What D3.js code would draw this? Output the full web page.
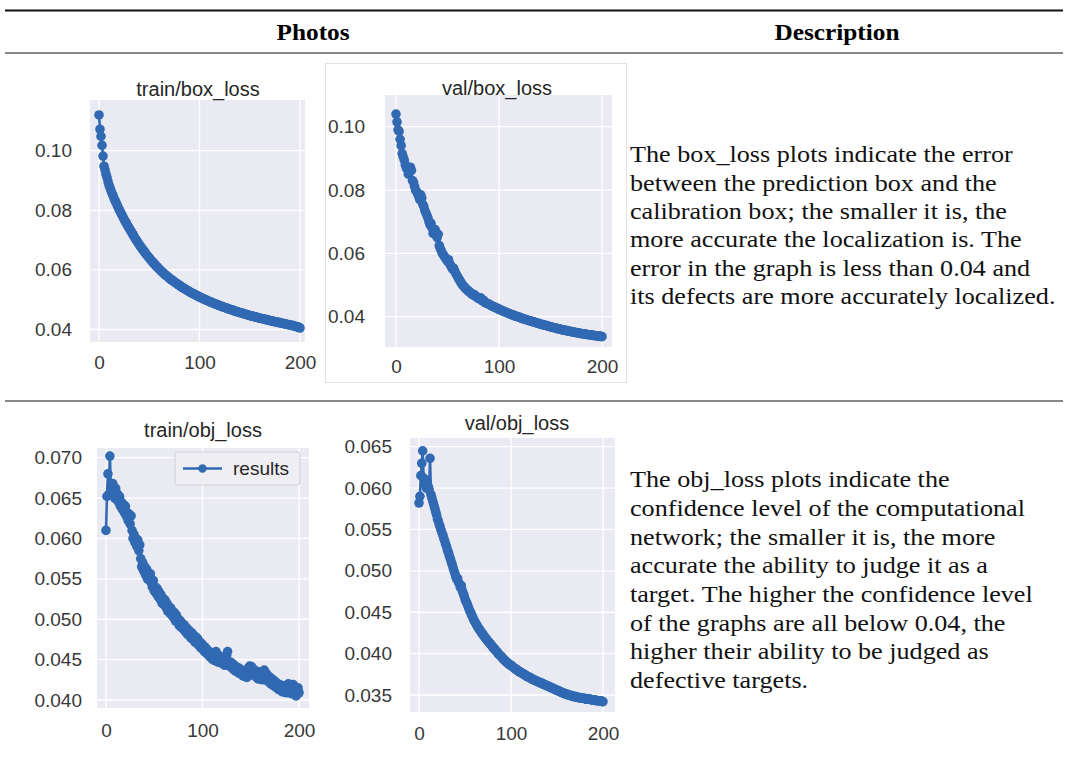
<!DOCTYPE html>
<html>
<head>
<meta charset="utf-8">
<script src="https://cdn.jsdelivr.net/npm/d3@7"></script>
<style>
  body { margin: 0; background: #fff; }
  svg { display: block; }
</style>
</head>
<body>
<div id="chart"></div>
<script>
// epochs 0..200, one value per epoch
const epochs = d3.range(0, 201);

const trainBoxLoss = [
  .1120, .1072, .1048, .1018, .0982, .0948, .0935, .0921, .0910, .0896,
  .0884, .0875, .0866, .0856, .0849, .0840, .0832, .0826, .0818, .0810,
  .0803, .0797, .0789, .0784, .0776, .0770, .0763, .0759, .0751, .0746,
  .0740, .0734, .0729, .0722, .0718, .0711, .0706, .0701, .0695, .0691,
  .0685, .0680, .0676, .0670, .0667, .0661, .0657, .0652, .0649, .0644,
  .0640, .0636, .0631, .0628, .0624, .0620, .0617, .0612, .0610, .0606,
  .0602, .0599, .0596, .0592, .0590, .0586, .0583, .0581, .0578, .0575,
  .0572, .0570, .0567, .0565, .0562, .0560, .0557, .0555, .0553, .0550,
  .0548, .0546, .0543, .0541, .0539, .0537, .0535, .0533, .0531, .0529,
  .0527, .0525, .0523, .0521, .0520, .0518, .0516, .0514, .0513, .0511,
  .0509, .0507, .0506, .0504, .0503, .0501, .0500, .0498, .0497, .0495,
  .0494, .0492, .0491, .0489, .0488, .0487, .0485, .0484, .0483, .0481,
  .0480, .0479, .0478, .0476, .0475, .0474, .0473, .0472, .0470, .0469,
  .0468, .0467, .0466, .0465, .0464, .0462, .0461, .0460, .0459, .0458,
  .0457, .0456, .0455, .0454, .0453, .0452, .0451, .0450, .0449, .0448,
  .0447, .0446, .0445, .0444, .0444, .0443, .0442, .0441, .0440, .0439,
  .0438, .0437, .0437, .0436, .0435, .0434, .0433, .0433, .0432, .0431,
  .0430, .0429, .0429, .0428, .0427, .0426, .0426, .0425, .0424, .0423,
  .0423, .0422, .0421, .0420, .0420, .0419, .0418, .0417, .0417, .0416,
  .0415, .0414, .0414, .0413, .0412, .0411, .0410, .0409, .0408, .0407,
  .0405
];

const valBoxLoss = [
  .1040, .1015, .0990, .0985, .0960, .0940, .0915, .0905, .0895, .0880,
  .0870, .0865, .0850, .0858, .0872, .0862, .0830, .0825, .0812, .0800,
  .0795, .0788, .0780, .0770, .0785, .0775, .0755, .0748, .0735, .0728,
  .0720, .0712, .0700, .0690, .0695, .0680, .0663, .0668, .0675, .0658,
  .0650, .0660, .0625, .0615, .0608, .0600, .0595, .0590, .0586, .0580,
  .0575, .0580, .0568, .0562, .0556, .0550, .0553, .0544, .0537, .0531,
  .0525, .0519, .0514, .0508, .0503, .0499, .0495, .0491, .0488, .0485,
  .0482, .0479, .0476, .0473, .0471, .0468, .0470, .0465, .0463, .0461,
  .0458, .0456, .0460, .0454, .0450, .0452, .0447, .0444, .0442, .0441,
  .0440, .0438, .0436, .0434, .0433, .0431, .0430, .0428, .0427, .0425,
  .0424, .0422, .0421, .0419, .0418, .0416, .0415, .0414, .0412, .0411,
  .0410, .0408, .0407, .0406, .0405, .0403, .0402, .0401, .0400, .0399,
  .0398, .0396, .0395, .0394, .0393, .0392, .0391, .0390, .0389, .0388,
  .0387, .0386, .0385, .0384, .0383, .0382, .0381, .0380, .0379, .0378,
  .0377, .0376, .0375, .0374, .0374, .0373, .0372, .0371, .0370, .0369,
  .0368, .0367, .0366, .0366, .0365, .0364, .0363, .0362, .0362, .0361,
  .0360, .0359, .0358, .0358, .0357, .0356, .0356, .0355, .0354, .0354,
  .0353, .0352, .0352, .0351, .0350, .0350, .0349, .0349, .0348, .0347,
  .0347, .0346, .0346, .0345, .0345, .0344, .0344, .0343, .0343, .0342,
  .0342, .0341, .0341, .0340, .0340, .0340, .0339, .0339, .0338, .0338,
  .0337
];

const trainObjLoss = [
  .0610, .0652, .0680, .0655, .0702, .0665, .0660, .0668, .0655, .0650,
  .0662, .0648, .0655, .0645, .0652, .0640, .0645, .0636, .0642, .0632,
  .0640, .0628, .0632, .0622, .0630, .0618, .0628, .0610, .0600, .0605,
  .0595, .0600, .0590, .0598, .0585, .0592, .0575, .0565, .0570, .0560,
  .0565, .0555, .0562, .0550, .0558, .0548, .0556, .0545, .0540, .0548,
  .0535, .0540, .0532, .0538, .0528, .0534, .0525, .0530, .0520, .0526,
  .0518, .0524, .0515, .0520, .0510, .0516, .0508, .0514, .0505, .0510,
  .0502, .0508, .0498, .0505, .0496, .0500, .0492, .0498, .0490, .0495,
  .0488, .0493, .0485, .0490, .0482, .0487, .0480, .0485, .0477, .0483,
  .0475, .0480, .0472, .0478, .0470, .0476, .0468, .0472, .0465, .0470,
  .0463, .0467, .0460, .0465, .0458, .0462, .0456, .0460, .0453, .0458,
  .0451, .0456, .0449, .0454, .0460, .0452, .0447, .0455, .0450, .0446,
  .0452, .0445, .0450, .0443, .0448, .0455, .0460, .0446, .0442, .0447,
  .0440, .0445, .0438, .0443, .0436, .0441, .0435, .0440, .0433, .0438,
  .0432, .0437, .0430, .0436, .0429, .0435, .0428, .0434, .0440, .0442,
  .0437, .0441, .0433, .0438, .0430, .0436, .0428, .0433, .0426, .0435,
  .0428, .0434, .0425, .0431, .0437, .0427, .0433, .0424, .0430, .0422,
  .0428, .0420, .0426, .0418, .0424, .0417, .0422, .0415, .0420, .0413,
  .0419, .0412, .0418, .0410, .0416, .0411, .0418, .0409, .0414, .0420,
  .0410, .0416, .0408, .0414, .0419, .0407, .0413, .0405, .0411, .0415,
  .0409
];

const valObjLoss = [
  .0582, .0590, .0615, .0630, .0645, .0612, .0605, .0610, .0600, .0606,
  .0602, .0598, .0636, .0592, .0588, .0584, .0580, .0576, .0572, .0568,
  .0563, .0560, .0556, .0553, .0549, .0546, .0543, .0539, .0536, .0532,
  .0529, .0525, .0522, .0518, .0515, .0511, .0508, .0504, .0500, .0497,
  .0493, .0490, .0491, .0486, .0484, .0480, .0482, .0476, .0473, .0470,
  .0466, .0463, .0461, .0458, .0455, .0452, .0450, .0447, .0445, .0442,
  .0440, .0438, .0436, .0434, .0432, .0430, .0429, .0427, .0425, .0424,
  .0422, .0421, .0419, .0418, .0416, .0415, .0414, .0412, .0411, .0410,
  .0408, .0407, .0406, .0404, .0403, .0402, .0400, .0399, .0398, .0397,
  .0396, .0394, .0393, .0392, .0391, .0390, .0389, .0388, .0387, .0386,
  .0386, .0385, .0384, .0383, .0382, .0381, .0381, .0380, .0379, .0378,
  .0378, .0377, .0376, .0376, .0375, .0374, .0374, .0373, .0372, .0372,
  .0371, .0371, .0370, .0369, .0369, .0368, .0368, .0367, .0367, .0366,
  .0366, .0365, .0365, .0364, .0364, .0363, .0363, .0362, .0362, .0361,
  .0361, .0360, .0360, .0359, .0359, .0358, .0358, .0357, .0357, .0356,
  .0356, .0355, .0355, .0354, .0354, .0353, .0353, .0352, .0352, .0351,
  .0351, .0351, .0350, .0350, .0350, .0349, .0349, .0349, .0348, .0348,
  .0348, .0348, .0347, .0347, .0347, .0347, .0346, .0346, .0346, .0346,
  .0346, .0345, .0345, .0345, .0345, .0345, .0345, .0344, .0344, .0344,
  .0344, .0344, .0344, .0343, .0343, .0343, .0343, .0343, .0343, .0342,
  .0342
];

const xTicks = [0, 100, 200];
const boxTicks = [0.04, 0.06, 0.08, 0.10];
const trainObjTicks = [0.040, 0.045, 0.050, 0.055, 0.060, 0.065, 0.070];
const valObjTicks = [0.035, 0.040, 0.045, 0.050, 0.055, 0.060, 0.065];

const headers = ["Photos", "Description"];
const legendLabel = "results";
const boxText = [
  "The box_loss plots indicate the error",
  "between the prediction box and the",
  "calibration box; the smaller it is, the",
  "more accurate the localization is. The",
  "error in the graph is less than 0.04 and",
  "its defects are more accurately localized."
];
const objText = [
  "The obj_loss plots indicate the",
  "confidence level of the computational",
  "network; the smaller it is, the more",
  "accurate the ability to judge it as a",
  "target. The higher the confidence level",
  "of the graphs are all below 0.04, the",
  "higher their ability to be judged as",
  "defective targets."
];

const width = 1065, height = 758;
const blue = "#3169b3";
const sans = "'Liberation Sans', Arial, sans-serif";
const serif = "'Liberation Serif', 'Times New Roman', serif";

const svg = d3.select("#chart").append("svg")
  .attr("width", width)
  .attr("height", height)
  .attr("viewBox", `0 0 ${width} ${height}`);

// table rules
const rules = [
  {y: 10.5, w: 2},
  {y: 53, w: 1},
  {y: 401, w: 1}
];
svg.append("g").selectAll("line")
  .data(rules)
  .join("line")
    .attr("x1", 5).attr("x2", 1063)
    .attr("y1", d => d.y).attr("y2", d => d.y)
    .attr("stroke", "#111")
    .attr("stroke-width", d => d.w);

// header cells, widened a bit since Palatino runs wider than Times
svg.append("g")
    .attr("font-family", serif)
    .attr("font-weight", "bold")
    .attr("font-size", 23)
    .attr("text-anchor", "middle")
  .selectAll("text")
  .data(headers)
  .join("text")
    .attr("transform", (d, i) => `translate(${[313, 837][i]},40) scale(1.1,1)`)
    .text(d => d);

// faint frame of the second screenshot
svg.append("rect")
  .attr("x", 325.5).attr("y", 63.5)
  .attr("width", 301).attr("height", 319)
  .attr("fill", "none")
  .attr("stroke", "#e2e2e2");

const panels = [
  {title: "train/box_loss", values: trainBoxLoss, ticks: boxTicks, fmt: ".2f",
   bg: [90, 305, 100, 342], xr: [99, 300], yr: [329.5, 150.7], labelX: 72,
   titleXY: [198, 89], xLabelY: 362},
  {title: "val/box_loss", values: valBoxLoss, ticks: boxTicks, fmt: ".2f",
   bg: [385, 612, 95, 347], xr: [396, 602], yr: [316.7, 126.7], labelX: 365,
   titleXY: [497, 88], xLabelY: 366},
  {title: "train/obj_loss", values: trainObjLoss, ticks: trainObjTicks, fmt: ".3f",
   bg: [97, 309, 448, 708], xr: [106, 299], yr: [700, 457.7], labelX: 82,
   titleXY: [203, 430], xLabelY: 730, legend: true},
  {title: "val/obj_loss", values: valObjLoss, ticks: valObjTicks, fmt: ".3f",
   bg: [410, 615, 438, 712], xr: [419, 603], yr: [695, 446.7], labelX: 392,
   titleXY: [517, 423], xLabelY: 733}
];

panels.forEach(p => {
  const g = svg.append("g");
  const y0 = p.ticks[0], y1 = p.ticks[p.ticks.length - 1];
  const x = d3.scaleLinear().domain([0, 200]).range(p.xr);
  const y = d3.scaleLinear().domain([y0, y1]).range(p.yr);

  g.append("rect")
    .attr("x", p.bg[0]).attr("y", p.bg[2])
    .attr("width", p.bg[1] - p.bg[0]).attr("height", p.bg[3] - p.bg[2])
    .attr("fill", "#eaeaf2");

  // white grid
  g.append("g").selectAll("line")
    .data(p.ticks)
    .join("line")
      .attr("x1", p.bg[0]).attr("x2", p.bg[1])
      .attr("y1", d => y(d)).attr("y2", d => y(d))
      .attr("stroke", "#fff").attr("stroke-width", 1.3);
  g.append("g").selectAll("line")
    .data(xTicks)
    .join("line")
      .attr("x1", d => x(d)).attr("x2", d => x(d))
      .attr("y1", p.bg[2]).attr("y2", p.bg[3])
      .attr("stroke", "#fff").attr("stroke-width", 1.3);

  // axes: labels only
  g.append("g")
      .attr("transform", `translate(${p.labelX},0)`)
      .call(d3.axisLeft(y).tickValues(p.ticks).tickFormat(d3.format(p.fmt)).tickSize(0).tickPadding(0))
      .call(a => a.select(".domain").remove())
      .call(a => a.selectAll("text")
        .attr("font-family", sans).attr("font-size", 19).attr("fill", "#383838"));

  g.append("g")
      .attr("transform", `translate(0,${p.xLabelY})`)
      .call(d3.axisBottom(x).tickValues(xTicks).tickFormat(d3.format("d")).tickSize(0))
      .call(a => a.select(".domain").remove())
      .call(a => a.selectAll("text")
        .attr("y", 0).attr("dy", "0.35em")
        .attr("font-family", sans).attr("font-size", 19).attr("fill", "#383838"));

  g.append("text")
    .attr("x", p.titleXY[0]).attr("y", p.titleXY[1])
    .attr("dy", "0.35em")
    .attr("text-anchor", "middle")
    .attr("font-family", sans).attr("font-size", 20).attr("fill", "#262626")
    .text(p.title);

  const line = d3.line()
    .x((d, i) => x(epochs[i]))
    .y(d => y(d));

  g.append("path")
    .datum(p.values)
    .attr("fill", "none")
    .attr("stroke", blue)
    .attr("stroke-width", 2.6)
    .attr("stroke-linejoin", "round")
    .attr("d", line);

  g.append("g")
      .attr("fill", blue)
    .selectAll("circle")
    .data(p.values)
    .join("circle")
      .attr("cx", (d, i) => x(epochs[i]))
      .attr("cy", d => y(d))
      .attr("r", 4.8);

  if (p.legend) {
    const lg = g.append("g").attr("transform", "translate(175,452)");
    lg.append("rect")
      .attr("width", 125).attr("height", 33).attr("rx", 3)
      .attr("fill", "#eeeef3").attr("stroke", "#cfcfd6");
    lg.append("line")
      .attr("x1", 8).attr("x2", 47).attr("y1", 16.5).attr("y2", 16.5)
      .attr("stroke", blue).attr("stroke-width", 2.6);
    lg.append("circle")
      .attr("cx", 27.5).attr("cy", 16.5).attr("r", 4.2).attr("fill", blue);
    lg.append("text")
      .attr("x", 58).attr("y", 16.5).attr("dy", "0.35em")
      .attr("font-family", sans).attr("font-size", 19).attr("fill", "#262626")
      .text(legendLabel);
  }
});

// description column, stretched to the width of the original Palatino lines
const para = (lines, top, step) => svg.append("g")
    .attr("transform", "translate(630,0) scale(1.09,1)")
    .attr("font-family", serif)
    .attr("font-size", 24)
    .attr("fill", "#111")
  .selectAll("text")
  .data(lines)
  .join("text")
    .attr("x", 0)
    .attr("y", (d, i) => top + i * step)
    .attr("dy", "0.3em")
    .text(d => d);

para(boxText, 155, 28.35);
para(objText, 480, 28.7);
</script>
</body>
</html>
